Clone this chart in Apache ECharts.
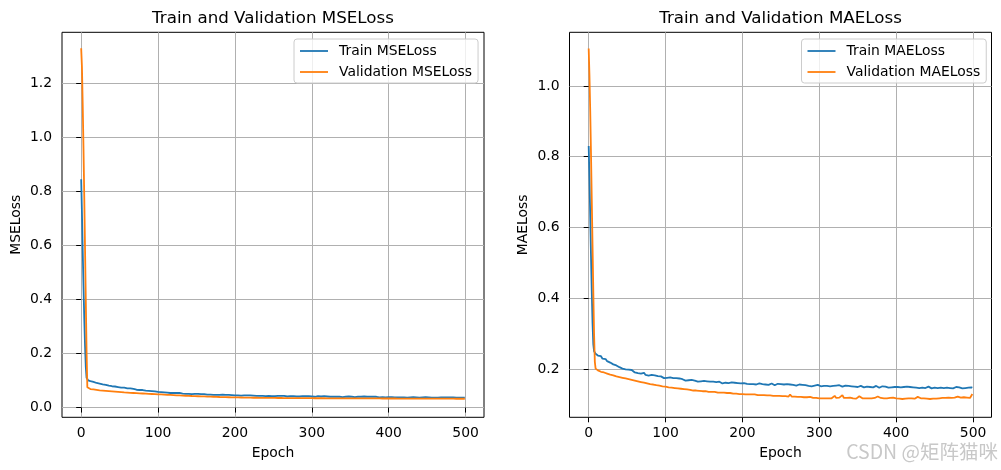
<!DOCTYPE html>
<html>
<head>
<meta charset="utf-8">
<script src="https://cdn.jsdelivr.net/npm/echarts@6/dist/echarts.min.js"></script>
<style>
html,body{margin:0;padding:0;background:#fff;}
#chart{width:1001px;height:470px;}
</style>
</head>
<body>
<div id="chart"></div>
<script>
const epochs = [0,1,2,3,4,5,6,7,8,9,10,
12,14,16,18,20,22,24,26,28,30,32,34,36,38,40,42,44,46,48,50,52,54,56,58,60,
62,64,66,68,70,72,74,76,78,80,82,84,86,88,90,92,94,96,98,100,102,104,106,108,110,
112,114,116,118,120,122,124,126,128,130,132,134,136,138,140,142,144,146,148,150,152,154,156,158,160,
162,164,166,168,170,172,174,176,178,180,182,184,186,188,190,192,194,196,198,200,202,204,206,208,210,
212,214,216,218,220,222,224,226,228,230,232,234,236,238,240,242,244,246,248,250,252,254,256,258,260,
262,264,266,268,270,272,274,276,278,280,282,284,286,288,290,292,294,296,298,300,302,304,306,308,310,
312,314,316,318,320,322,324,326,328,330,332,334,336,338,340,342,344,346,348,350,352,354,356,358,360,
362,364,366,368,370,372,374,376,378,380,382,384,386,388,390,392,394,396,398,400,402,404,406,408,410,
412,414,416,418,420,422,424,426,428,430,432,434,436,438,440,442,444,446,448,450,452,454,456,458,460,
462,464,466,468,470,472,474,476,478,480,482,484,486,488,490,492,494,496,498,
499];

const trainMSE = [0.845,0.72,0.58,0.45,0.33,0.23,0.15,0.11,0.104,0.101,0.099,
0.098,0.094,0.095,0.091,0.091,0.088,0.089,0.086,0.086,0.083,0.084,0.081,0.081,0.079,0.079,0.077,0.078,0.075,0.076,0.074,0.074,0.072,0.074,0.071,0.071,
0.070,0.071,0.068,0.069,0.067,0.066,0.067,0.065,0.064,0.065,0.063,0.063,0.061,0.062,0.060,0.061,0.059,0.060,0.058,0.058,0.059,0.057,0.057,0.056,0.057,
0.055,0.056,0.054,0.055,0.054,0.053,0.054,0.052,0.054,0.053,0.052,0.053,0.051,0.052,0.051,0.052,0.050,0.051,0.051,0.050,0.051,0.049,0.050,0.049,0.050,
0.049,0.048,0.049,0.048,0.049,0.047,0.048,0.047,0.048,0.047,0.046,0.048,0.046,0.047,0.046,0.047,0.045,0.046,0.046,0.045,0.046,0.045,0.046,0.044,0.045,
0.045,0.044,0.045,0.044,0.045,0.043,0.044,0.044,0.043,0.045,0.043,0.044,0.043,0.044,0.042,0.044,0.043,0.043,0.042,0.044,0.042,0.043,0.043,0.042,0.043,
0.042,0.043,0.042,0.041,0.043,0.042,0.041,0.042,0.043,0.041,0.042,0.041,0.042,0.042,0.041,0.042,0.040,0.042,0.041,0.041,0.042,0.040,0.041,0.042,0.040,
0.041,0.040,0.042,0.040,0.041,0.041,0.040,0.041,0.040,0.042,0.040,0.041,0.040,0.041,0.039,0.041,0.040,0.040,0.041,0.039,0.040,0.041,0.039,0.040,0.040,
0.039,0.040,0.039,0.041,0.039,0.040,0.039,0.040,0.038,0.040,0.039,0.040,0.039,0.038,0.040,0.039,0.039,0.038,0.040,0.039,0.038,0.039,0.040,0.038,0.039,
0.038,0.039,0.038,0.039,0.038,0.039,0.037,0.039,0.038,0.038,0.039,0.037,0.038,0.039,0.037,0.038,0.038,0.037,0.039,0.037,0.038,0.038,0.037,0.038,0.037,
0.038,0.037,0.038,0.038,0.037,0.038,0.037,0.038,0.037,0.038,0.037,0.038,0.037,0.037,0.038,0.037,0.038,0.037,0.038,
0.037];

const valMSE = [1.330,1.260,1.120,0.960,0.780,0.590,0.400,0.210,0.075,0.071,0.070,
0.0685,0.0675,0.0670,0.0660,0.0655,0.0650,0.0640,0.0635,0.0630,0.0625,0.0620,0.0615,0.0610,0.0605,0.0600,0.0595,0.0590,0.0585,0.0580,0.0575,0.0570,0.0565,0.0560,0.0557,0.0554,
0.0548,0.0545,0.0542,0.0539,0.0536,0.0533,0.0530,0.0527,0.0524,0.0521,0.0518,0.0515,0.0512,0.0509,0.0506,0.0503,0.0500,0.0497,0.0494,0.0491,0.0488,0.0485,0.0482,0.0479,0.0476,
0.0473,0.0470,0.0467,0.0464,0.0461,0.0458,0.0455,0.0452,0.0449,0.0446,0.0443,0.0441,0.0438,0.0436,0.0433,0.0431,0.0428,0.0426,0.0424,0.0422,0.0420,0.0418,0.0416,0.0414,0.0412,
0.0410,0.0408,0.0406,0.0404,0.0402,0.0400,0.0398,0.0396,0.0394,0.0392,0.0390,0.0389,0.0387,0.0385,0.0384,0.0382,0.0381,0.0379,0.0378,0.0377,0.0375,0.0374,0.0373,0.0372,0.0371,
0.0370,0.0369,0.0368,0.0367,0.0366,0.0365,0.0364,0.0364,0.0363,0.0362,0.0361,0.0361,0.0360,0.0359,0.0359,0.0358,0.0358,0.0357,0.0357,0.0356,0.0356,0.0355,0.0355,0.0354,0.0354,
0.0353,0.0353,0.0353,0.0352,0.0352,0.0351,0.0351,0.0351,0.0350,0.0350,0.0350,0.0349,0.0349,0.0349,0.0348,0.0348,0.0348,0.0347,0.0347,0.0347,0.0346,0.0346,0.0346,0.0346,0.0345,
0.0345,0.0345,0.0345,0.0344,0.0344,0.0344,0.0344,0.0343,0.0343,0.0343,0.0343,0.0342,0.0342,0.0342,0.0342,0.0341,0.0341,0.0341,0.0341,0.0341,0.0340,0.0340,0.0340,0.0340,0.0340,
0.0339,0.0339,0.0339,0.0339,0.0339,0.0338,0.0338,0.0338,0.0338,0.0338,0.0337,0.0337,0.0337,0.0337,0.0337,0.0336,0.0336,0.0336,0.0336,0.0336,0.0335,0.0335,0.0335,0.0335,0.0335,
0.0334,0.0334,0.0334,0.0334,0.0334,0.0333,0.0333,0.0333,0.0333,0.0333,0.0332,0.0332,0.0332,0.0332,0.0332,0.0331,0.0331,0.0331,0.0331,0.0331,0.0330,0.0330,0.0330,0.0330,0.0330,
0.0330,0.0329,0.0329,0.0329,0.0329,0.0329,0.0328,0.0328,0.0328,0.0328,0.0328,0.0328,0.0327,0.0327,0.0327,0.0327,0.0327,0.0327,0.0327,
0.0327];

const trainMAE = [0.830,0.74,0.63,0.52,0.42,0.33,0.27,0.25,0.247,0.243,0.240,
0.238,0.233,0.236,0.229,0.226,0.228,0.222,0.224,0.218,0.219,0.213,0.215,0.210,0.208,0.205,0.207,0.201,0.204,0.199,0.196,0.198,0.193,0.197,0.194,0.190,
0.192,0.188,0.191,0.187,0.186,0.189,0.183,0.185,0.181,0.184,0.183,0.179,0.182,0.178,0.180,0.177,0.179,0.176,0.174,0.177,0.175,0.173,0.176,0.171,0.174,
0.172,0.174,0.170,0.173,0.169,0.171,0.170,0.167,0.170,0.168,0.166,0.169,0.165,0.167,0.166,0.164,0.168,0.165,0.163,0.166,0.164,0.165,0.162,0.164,0.163,
0.164,0.161,0.163,0.160,0.164,0.162,0.159,0.162,0.161,0.163,0.160,0.158,0.162,0.160,0.161,0.158,0.160,0.162,0.159,0.157,0.160,0.161,0.158,0.160,0.157,
0.159,0.157,0.160,0.156,0.158,0.159,0.155,0.157,0.160,0.156,0.158,0.155,0.157,0.159,0.156,0.154,0.157,0.158,0.155,0.157,0.153,0.156,0.155,0.157,0.154,
0.156,0.153,0.155,0.157,0.153,0.154,0.156,0.152,0.155,0.153,0.154,0.156,0.152,0.154,0.151,0.155,0.153,0.152,0.155,0.153,0.151,0.154,0.152,0.155,0.152,
0.153,0.151,0.154,0.152,0.150,0.153,0.151,0.154,0.152,0.150,0.152,0.153,0.150,0.152,0.149,0.151,0.153,0.150,0.152,0.149,0.151,0.152,0.150,0.148,0.151,
0.150,0.152,0.149,0.151,0.148,0.150,0.152,0.149,0.147,0.150,0.151,0.148,0.150,0.149,0.147,0.150,0.148,0.151,0.149,0.147,0.149,0.150,0.148,0.146,0.149,
0.148,0.150,0.147,0.149,0.146,0.148,0.150,0.147,0.149,0.146,0.148,0.147,0.149,0.146,0.148,0.150,0.147,0.145,0.148,0.147,0.149,0.146,0.148,0.147,0.149,
0.146,0.148,0.147,0.149,0.146,0.148,0.145,0.147,0.149,0.146,0.148,0.147,0.145,0.148,0.146,0.149,0.147,0.146,0.148,
0.147];

const valMAE = [1.106,1.03,0.93,0.81,0.68,0.55,0.42,0.30,0.22,0.201,0.198,
0.196,0.194,0.192,0.191,0.190,0.188,0.187,0.185,0.184,0.183,0.182,0.180,0.179,0.178,0.177,0.176,0.175,0.174,0.173,0.172,0.171,0.170,0.169,0.168,0.167,
0.166,0.165,0.164,0.163,0.162,0.161,0.160,0.159,0.158,0.157,0.157,0.156,0.155,0.154,0.153,0.153,0.152,0.151,0.150,0.150,0.149,0.148,0.148,0.147,0.147,
0.146,0.146,0.145,0.144,0.144,0.143,0.143,0.142,0.142,0.141,0.141,0.140,0.139,0.139,0.139,0.138,0.138,0.137,0.137,0.136,0.137,0.136,0.135,0.135,0.135,
0.134,0.135,0.134,0.133,0.134,0.133,0.132,0.133,0.132,0.132,0.131,0.132,0.131,0.130,0.131,0.130,0.130,0.129,0.130,0.129,0.129,0.128,0.129,0.128,0.128,
0.128,0.127,0.128,0.127,0.126,0.127,0.126,0.125,0.126,0.125,0.125,0.124,0.125,0.124,0.124,0.129,0.124,0.123,0.124,0.123,0.123,0.122,0.123,0.122,0.122,
0.128,0.122,0.121,0.122,0.121,0.121,0.120,0.121,0.120,0.120,0.119,0.120,0.119,0.121,0.119,0.118,0.119,0.118,0.118,0.117,0.118,0.117,0.116,0.117,0.117,
0.117,0.118,0.117,0.118,0.124,0.118,0.117,0.119,0.118,0.126,0.118,0.117,0.118,0.117,0.119,0.118,0.117,0.118,0.116,0.118,0.123,0.118,0.117,0.118,0.117,
0.118,0.117,0.119,0.117,0.116,0.118,0.117,0.122,0.117,0.118,0.116,0.117,0.118,0.117,0.116,0.118,0.117,0.119,0.116,0.117,0.118,0.116,0.117,0.115,0.117,
0.116,0.118,0.117,0.115,0.117,0.118,0.116,0.117,0.121,0.116,0.117,0.115,0.117,0.118,0.116,0.117,0.115,0.117,0.116,0.118,0.116,0.114,0.117,0.116,0.118,
0.116,0.118,0.117,0.119,0.117,0.118,0.116,0.119,0.118,0.122,0.117,0.119,0.118,0.120,0.118,0.119,0.121,0.118,0.120,
0.129];

const xTicks = [0, 100, 200, 300, 400, 500];
const mseTicks = [0.0, 0.2, 0.4, 0.6, 0.8, 1.0, 1.2];
const maeTicks = [0.2, 0.4, 0.6, 0.8, 1.0];
const titles = ['Train and Validation MSELoss', 'Train and Validation MAELoss'];
const seriesNames = ['Train MSELoss', 'Validation MSELoss', 'Train MAELoss', 'Validation MAELoss'];
const yNames = ['MSELoss', 'MAELoss'];
const xName = 'Epoch';
const watermark = 'CSDN @矩阵猫咪';

[['trainMSE', trainMSE], ['valMSE', valMSE], ['trainMAE', trainMAE], ['valMAE', valMAE]].forEach(function (p) {
  if (p[1].length !== epochs.length) throw new Error(p[0] + ' length ' + p[1].length + ' vs ' + epochs.length);
});

const FONT = 'DejaVu Sans';
const BLUE = '#1f77b4', ORANGE = '#ff7f0e';
const pairs = function (ys) { return epochs.map(function (e, i) { return [e, ys[i]]; }); };

const gridLeft = [62, 569.5];
const gridTop = 32.3, gridW = 422, gridH = 385;

function xAxisFor(i) {
  return {
    type: 'value', gridIndex: i, min: -24.95, max: 523.95,
    name: xName, nameLocation: 'middle', nameGap: 29,
    nameTextStyle: { fontFamily: FONT, fontSize: 13.9, color: '#000' },
    axisLine: { show: false },
    axisTick: { show: true, length: 5, customValues: xTicks, lineStyle: { color: '#000', width: 1 } },
    axisLabel: { customValues: xTicks, margin: 9, fontFamily: FONT, fontSize: 13.9, color: '#000' },
    splitLine: { show: true, lineStyle: { color: '#b0b0b0', width: 1 } }
  };
}
function yAxisFor(i, mn, mx, ticks) {
  return {
    type: 'value', gridIndex: i, min: mn, max: mx,
    name: yNames[i], nameLocation: 'middle', nameGap: 39,
    nameTextStyle: { fontFamily: FONT, fontSize: 13.9, color: '#000' },
    axisLine: { show: false },
    axisTick: { show: true, length: 5, customValues: ticks, lineStyle: { color: '#000', width: 1 } },
    axisLabel: { customValues: ticks, margin: 10, fontFamily: FONT, fontSize: 13.9, color: '#000',
      formatter: function (v) { return Number(v).toFixed(1); } },
    splitLine: { show: true, lineStyle: { color: '#b0b0b0', width: 1 } }
  };
}
function legendFor(i, names) {
  return {
    data: names.map(function (n, k) { return { name: n, itemStyle: { color: k === 0 ? BLUE : ORANGE } }; }),
    orient: 'vertical', left: [294, 801.5][i], top: 39,
    icon: 'rect', itemWidth: 28, itemHeight: 1.8, itemGap: 5, padding: [4, 6, 3, 6],
    backgroundColor: 'rgba(255,255,255,0.8)', borderColor: '#cccccc', borderWidth: 1, borderRadius: 3,
    textStyle: { fontFamily: FONT, fontSize: 13.9, color: '#000', padding: [0, 0, 0, 6], lineHeight: 16 },
    selectedMode: false
  };
}
function lineSeries(name, ys, color, idx) {
  return {
    name: name, type: 'line', xAxisIndex: idx, yAxisIndex: idx, data: pairs(ys),
    symbol: 'none', showSymbol: false, animation: false, clip: true,
    lineStyle: { color: color, width: 1.8 }, itemStyle: { color: color }
  };
}

const chart = echarts.init(document.getElementById('chart'), null, { renderer: 'canvas' });
chart.setOption({
  animation: false,
  backgroundColor: '#fff',
  textStyle: { fontFamily: FONT },
  title: [0, 1].map(function (i) {
    return {
      text: titles[i], left: gridLeft[i] + gridW / 2, top: 10, textAlign: 'center', padding: 0,
      textStyle: { fontFamily: FONT, fontSize: 16.7, fontWeight: 'normal', color: '#000' }
    };
  }),
  grid: [0, 1].map(function (i) {
    return { left: gridLeft[i], top: gridTop, width: gridW, height: gridH, show: true,
      borderColor: '#000', borderWidth: 1, backgroundColor: 'transparent', containLabel: false };
  }),
  xAxis: [xAxisFor(0), xAxisFor(1)],
  yAxis: [yAxisFor(0, -0.036, 1.389, mseTicks), yAxisFor(1, 0.0633, 1.1517, maeTicks)],
  legend: [legendFor(0, [seriesNames[0], seriesNames[1]]), legendFor(1, [seriesNames[2], seriesNames[3]])],
  series: [
    lineSeries(seriesNames[0], trainMSE, BLUE, 0),
    lineSeries(seriesNames[1], valMSE, ORANGE, 0),
    lineSeries(seriesNames[2], trainMAE, BLUE, 1),
    lineSeries(seriesNames[3], valMAE, ORANGE, 1)
  ],
  graphic: [{
    type: 'text', x: 998, y: 452, z: 100,
    style: { text: watermark, align: 'right', verticalAlign: 'middle',
      fontFamily: 'Noto Sans CJK SC', fontSize: 19.5, fill: '#c8c8c8' }
  }]
});
</script>
</body>
</html>
